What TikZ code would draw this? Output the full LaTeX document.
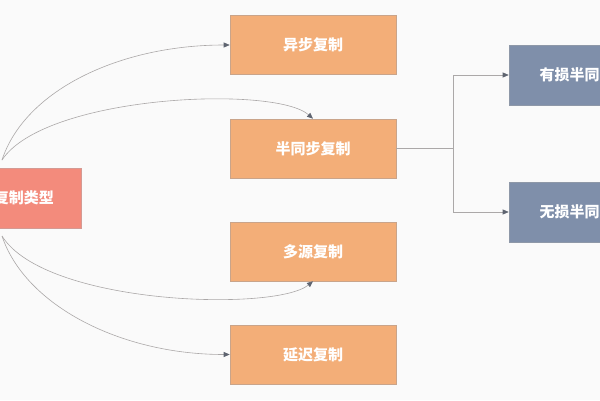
\documentclass[tikz,border=0pt]{standalone}
\usepackage{fontspec}
\newfontfamily\cjk{Noto Sans CJK SC}
\usetikzlibrary{arrows.meta}
\definecolor{bgc}{HTML}{FAFAFA}
\definecolor{orangefill}{HTML}{F3AE78}
\definecolor{orangeedge}{HTML}{C9A48A}
\definecolor{rootfill}{HTML}{F38B7C}
\definecolor{rootedge}{HTML}{D49A93}
\definecolor{bluefill}{HTML}{7F8FAA}
\definecolor{blueedge}{HTML}{8E98A8}
\definecolor{linec}{HTML}{ABA8A8}
\definecolor{tipc}{HTML}{5E6470}
\tikzset{
  box/.style={draw=orangeedge, fill=orangefill, line width=0.6pt, minimum width=166pt, minimum height=59pt, inner sep=0pt, text=white, font=\cjk\bfseries\fontsize{15}{15}\selectfont},
  rootbox/.style={box, draw=rootedge, fill=rootfill, minimum width=114pt, minimum height=60pt},
  bluebox/.style={box, draw=blueedge, fill=bluefill, minimum height=60pt},
  conn/.style={draw=linec, line width=0.6pt, -{Triangle[length=6pt,width=5pt,fill=tipc,color=tipc]}},
  plain/.style={draw=linec, line width=0.6pt}
}
\begin{document}
\begin{tikzpicture}[x=1pt,y=-1pt]
\useasboundingbox (0,0) rectangle (600,400);
\fill[bgc] (0,0) rectangle (600,400);
\begin{scope}
\clip (0,0) rectangle (600,400);
\node[rootbox] (root) at (24,198) {复制类型};
\node[box] (async) at (313,45) {异步复制};
\node[box] (semi) at (313,148.5) {半同步复制};
\node[box] (multi) at (313,251.5) {多源复制};
\node[box] (delay) at (313,354.5) {延迟复制};
\node[bluebox] (lossy) at (592,75) {有损半同步复制};
\node[bluebox] (lossless) at (592,212) {无损半同步复制};
\coordinate (st) at (2,160);
\coordinate (sb) at (2,236);
\coordinate (j) at (453,148.5);
\draw[conn] (st) .. controls (25,90) and (120,45) .. (async.west);
\draw[conn] (st) .. controls (45,95) and (275,85) .. (semi.north);
\draw[conn] (sb) .. controls (45,305) and (275,312) .. (multi.south);
\draw[conn] (sb) .. controls (25,305) and (120,354.5) .. (delay.west);
\draw[plain] (semi.east) -- (j);
\draw[conn] (j) |- (lossy.west);
\draw[conn] (j) |- (lossless.west);
\end{scope}
\end{tikzpicture}
\end{document}
